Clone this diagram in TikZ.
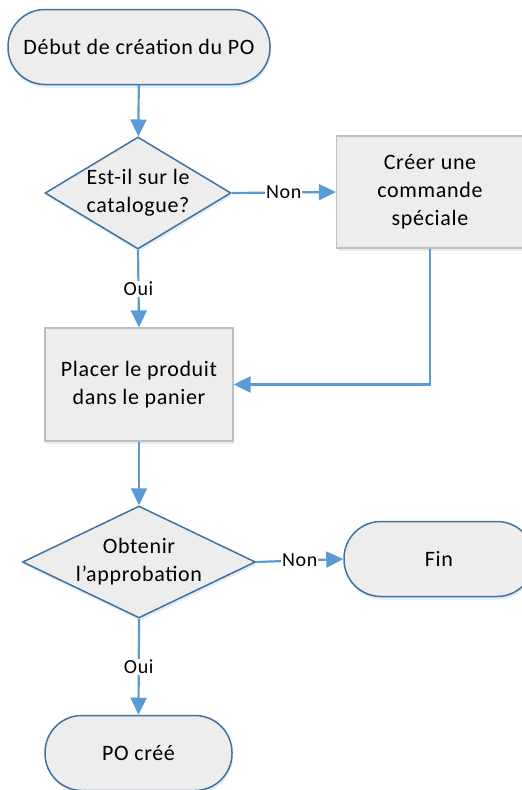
\documentclass[tikz,border=0pt]{standalone}
\usepackage{fontspec}
\setmainfont{Carlito}[LetterSpace=3]
\usetikzlibrary{shapes.geometric,arrows.meta,shadows}
\definecolor{flowline}{HTML}{5B9BD5}
\definecolor{shapeedge}{HTML}{41719C}
\definecolor{shapefill}{HTML}{EDEDED}
\definecolor{boxedge}{HTML}{BFBFBF}
\tikzset{
  shapetext/.style={font=\fontsize{22}{28}\selectfont},
  base/.style={fill=shapefill, shapetext, align=center,
    inner sep=0pt, drop shadow={opacity=0.18, shadow xshift=1pt, shadow yshift=-3pt, fill=flowline}},
  terminal/.style={base, draw=shapeedge, line width=1.5pt, rounded corners=37pt,
    minimum height=75pt},
  process/.style={base, draw=boxedge, line width=1.3pt, minimum width=187pt, minimum height=112pt},
  decision/.style={base, diamond, draw=shapeedge, line width=1.5pt, minimum height=112pt},
  flow/.style={draw=flowline, line width=2.2pt, -{Triangle[length=17pt,width=16pt]}},
  branch/.style={fill=white, inner sep=1pt, font=\fontsize{20}{22}\selectfont}
}
\begin{document}
\begin{tikzpicture}[x=1pt,y=-1pt]
  \useasboundingbox (0,0) rectangle (522,790);
  \clip (0,0) rectangle (522,790);

  % shapes
  \node[terminal, minimum width=262pt] (start) at (139,47) {Début de création du PO};
  \node[decision, minimum width=186pt,
        label={[align=center, shapetext]center:Est-il sur le\\catalogue?}]
        (cat) at (138,193) {};
  \node[process] (special) at (430,192) {Créer une\\commande\\spéciale};
  \node[process, minimum width=188pt, minimum height=113pt] (cart) at (139,384.5)
        {Placer le produit\\dans le panier};
  \node[decision, minimum width=233pt,
        label={[align=center, shapetext]center:Obtenir\\l’approbation}]
        (appr) at (139,562) {};
  \node[terminal, minimum width=190pt] (fin) at (439,559) {Fin};
  \node[terminal, minimum width=187pt] (done) at (138.5,753) {PO créé};

  % connectors
  \draw[flow] (start) -- (cat);
  \draw[flow] (cat.east) -- node[branch] {Non} (special.west);
  \draw[flow] (cat.south) -- node[branch] {Oui} (cart.north);
  \draw[flow] (special.south) |- (cart.east);
  \draw[flow] (cart.south) -- (appr.north);
  \draw[flow] (appr.east) -- node[branch] {Non} (fin.west);
  \draw[flow] (appr.south) -- node[branch] {Oui} (done.north);
\end{tikzpicture}
\end{document}
